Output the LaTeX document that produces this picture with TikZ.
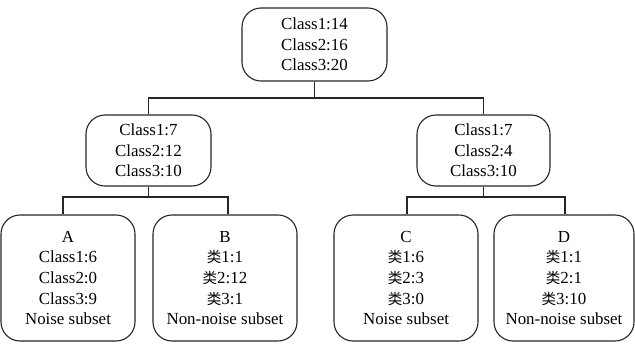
\documentclass[tikz,border=0pt]{standalone}
\usepackage{fontspec}
\setmainfont{Liberation Serif}
\newfontfamily\cjk[Scale=0.86]{Noto Sans CJK SC}
\begin{document}
\begin{tikzpicture}[x=1pt,y=-1pt,
  box/.style={draw=black!85, line width=1.1pt, rounded corners=19pt, inner sep=0pt,
    align=center, font=\fontsize{16.9}{20.6}\selectfont},
  link/.style={draw=black!85, line width=1.1pt}]
\fill[white] (0,0) rectangle (635,343);
\useasboundingbox (0,0) rectangle (635,343);
\newcommand{\lei}{{\cjk 类}}
\node[box, minimum width=145pt, minimum height=73pt] (top) at (314.5,44.5) {Class1:14\\Class2:16\\Class3:20};
\node[box, minimum width=125pt, minimum height=71pt] (ml) at (148.5,150.5) {Class1:7\\Class2:12\\Class3:10};
\node[box, minimum width=133pt, minimum height=71pt] (mr) at (483.5,150.5) {Class1:7\\Class2:4\\Class3:10};
\node[box, minimum width=134pt, minimum height=126pt] (A) at (68,278) {A\\Class1:6\\Class2:0\\Class3:9\\Noise subset};
\node[box, minimum width=144pt, minimum height=126pt] (B) at (225,278) {B\\\lei1:1\\\lei2:12\\\lei3:1\\Non-noise subset};
\node[box, minimum width=144pt, minimum height=126pt] (C) at (406,278) {C\\\lei1:6\\\lei2:3\\\lei3:0\\Noise subset};
\node[box, minimum width=140pt, minimum height=126pt] (D) at (564,278) {D\\\lei1:1\\\lei2:1\\\lei3:10\\Non-noise subset};
\coordinate (j1) at (314.5,98);
\coordinate (j2) at (148.5,197);
\coordinate (j3) at (483.5,197);
\draw[link] (top.south) -- (j1);
\draw[link] (ml.north) |- (j1) -| (mr.north);
\draw[link] (ml.south) -- (j2);
\draw[link] ([xshift=-5pt]A.north) |- (j2) -| ([xshift=3pt]B.north);
\draw[link] (mr.south) -- (j3);
\draw[link] ([xshift=1pt]C.north) |- (j3) -| ([xshift=1pt]D.north);
\end{tikzpicture}
\end{document}
